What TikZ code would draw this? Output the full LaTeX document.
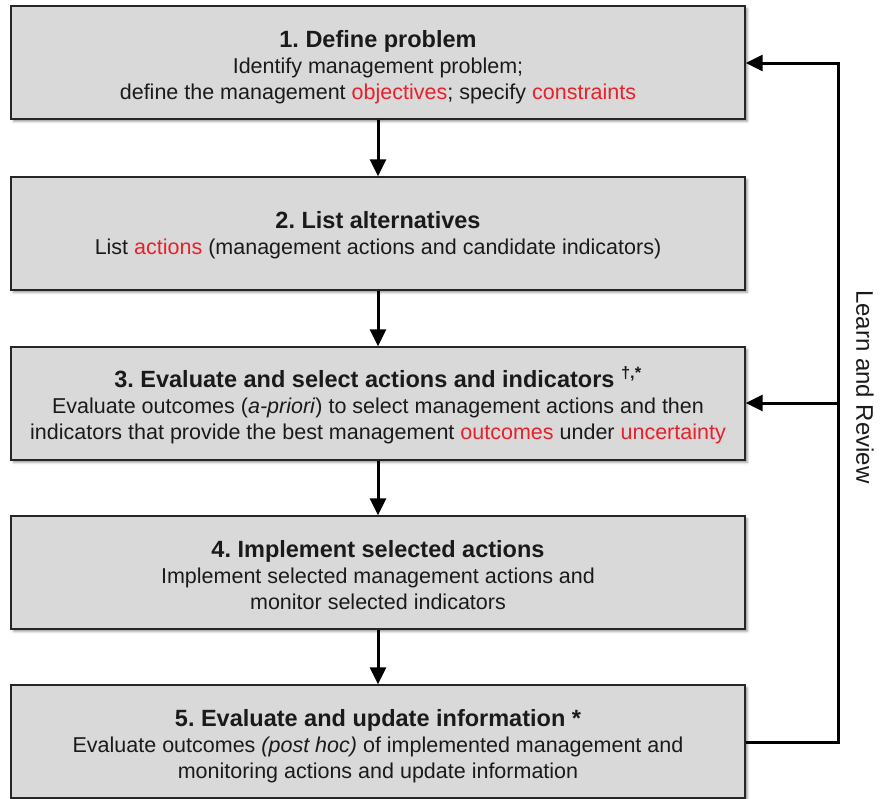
\documentclass[tikz,border=0pt]{standalone}
\usepackage{fontspec}
\setmainfont{Liberation Sans}
\usetikzlibrary{arrows.meta,shadows.blur}
\frenchspacing
\definecolor{boxfill}{HTML}{D9D9D9}
\definecolor{keyred}{HTML}{E8202A}
\definecolor{ink}{HTML}{1A1A1A}
\newcommand{\kw}[1]{\textcolor{keyred}{#1}}
\newcommand{\steptitle}[1]{{\fontsize{23.5}{27}\selectfont\bfseries #1}}
\tikzset{
  x=1pt, y=-1pt,
  stepbox/.style={draw=black!85, line width=1.3pt, fill=boxfill,
    minimum width=734pt, minimum height=113pt, inner sep=0pt,
    blur shadow={shadow xshift=2.5pt, shadow yshift=-2.5pt, shadow blur steps=4, shadow opacity=40}},
  steptext/.style={align=center, text=ink, font=\fontsize{21.5}{26}\selectfont, inner sep=0pt},
  flow/.style={line width=3pt, -{Triangle[length=17pt,width=16pt]}},
  loop/.style={line width=3pt}
}
\begin{document}
\begin{tikzpicture}
\useasboundingbox (0,0) rectangle (880,798);
% process steps
\node[stepbox] (s1) at (378,62.5) {};
\node[stepbox] (s2) at (378,233.5) {};
\node[stepbox] (s3) at (378,403.5) {};
\node[stepbox] (s4) at (378,572.5) {};
\node[stepbox] (s5) at (378,741.5) {};
\node[steptext] (t1) at (378,67) {\steptitle{1. Define problem}\\Identify management problem;\\define the management \kw{objectives}; specify \kw{constraints}};
\node[steptext] (t2) at (378,235) {\steptitle{2. List alternatives}\\List \kw{actions} (management actions and candidate indicators)};
\node[steptext] (t3) at (378,405) {\steptitle{3. Evaluate and select actions and indicators \textsuperscript{\dag,*}}\\Evaluate outcomes (\textit{a-priori}) to select management actions and then\\indicators that provide the best management \kw{outcomes} under \kw{uncertainty}};
\node[steptext] (t4) at (378,575) {\steptitle{4. Implement selected actions}\\Implement selected management actions and\\monitor selected indicators};
\node[steptext] (t5) at (378,746) {\steptitle{5. Evaluate and update information *}\\Evaluate outcomes \textit{(post hoc)} of implemented management and\\monitoring actions and update information};
% forward flow
\draw[flow] (s1.south) -- (s2.north);
\draw[flow] (s2.south) -- (s3.north);
\draw[flow] (s3.south) -- (s4.north);
\draw[flow] (s4.south) -- (s5.north);
% feedback loop
\coordinate (lb) at (838,742);
\coordinate (lt) at (838,63);
\coordinate (lm) at (838,403);
\draw[loop] (s5.east |- lb) -- (lb) -- (lt);
\draw[flow] ([xshift=1.5pt]lt) -- (s1.east |- lt);
\draw[flow] (lm) -- (s3.east |- lm);
\node[rotate=-90, text=ink, font=\fontsize{24}{28}\selectfont, inner sep=0pt] (lr) at (865,387) {Learn and Review};
\end{tikzpicture}
\end{document}
